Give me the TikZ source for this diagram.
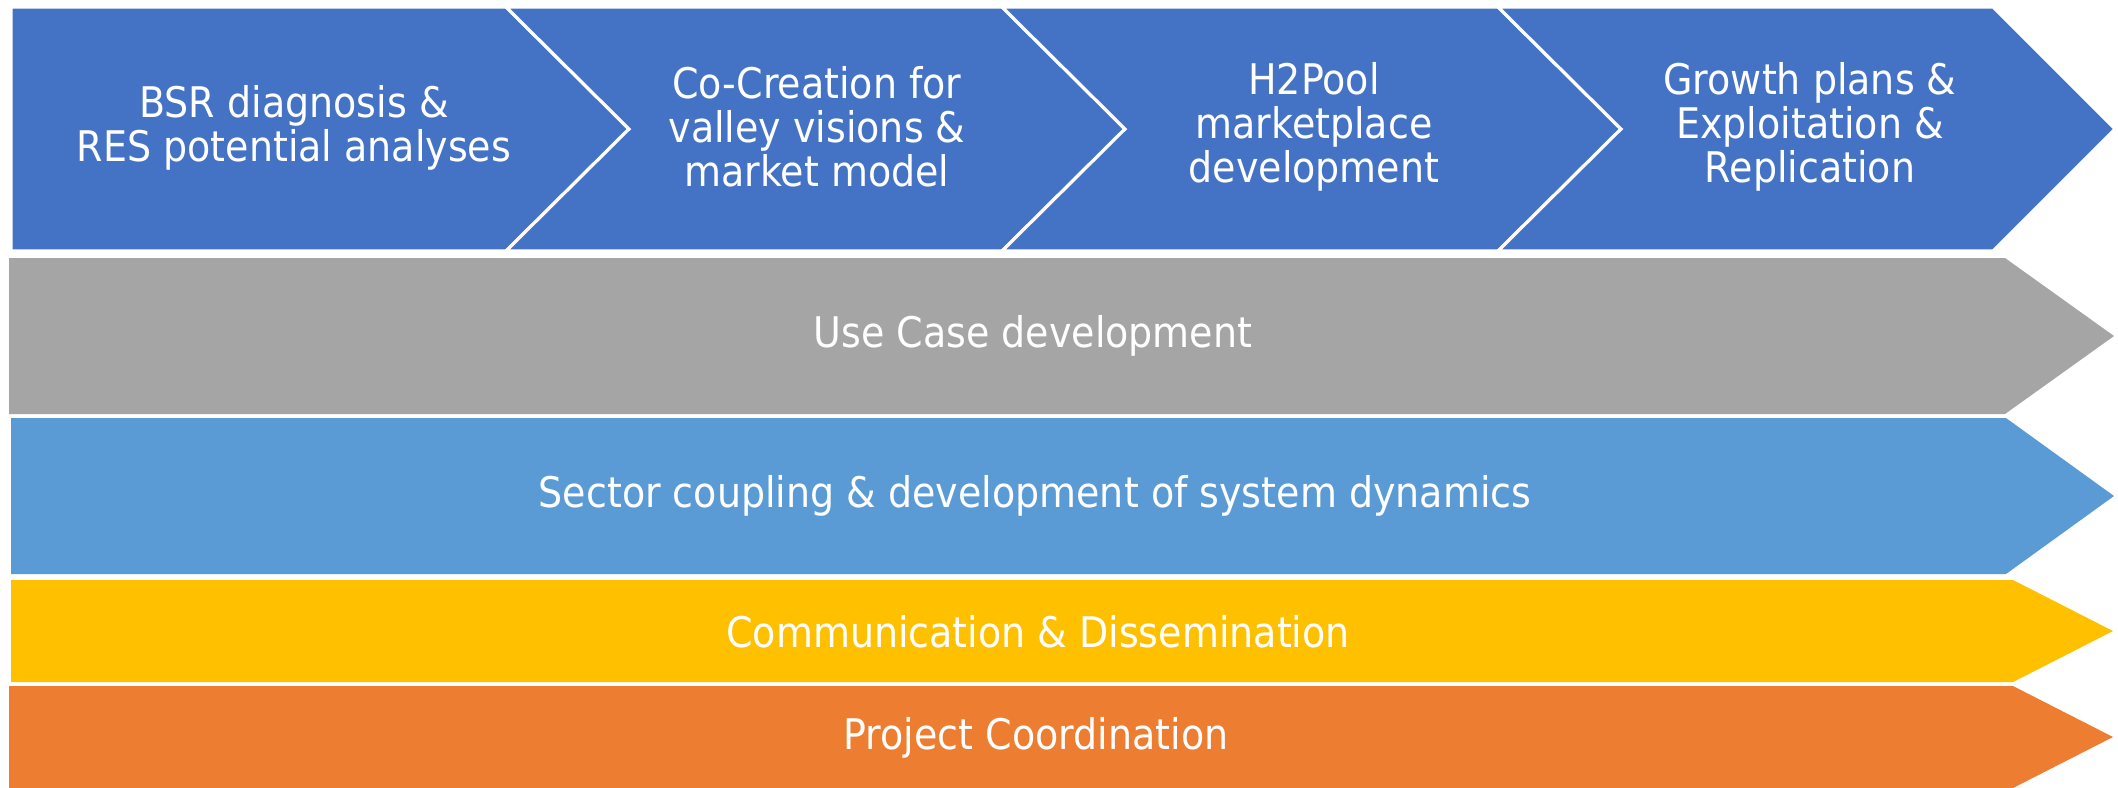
\documentclass[tikz,border=0pt]{standalone}
\usepackage{fontspec}
\setmainfont{DejaVu Sans}[FakeStretch=0.9]
\definecolor{phaseblue}{HTML}{4472C4}
\definecolor{casegray}{HTML}{A5A5A5}
\definecolor{sectorblue}{HTML}{5B9BD5}
\definecolor{commyellow}{HTML}{FFC000}
\definecolor{coordorange}{HTML}{ED7D31}
\tikzset{
  phase/.style={fill=phaseblue, draw=white, line width=0.9pt, line join=miter},
  wptext/.style={text=white, align=center, font=\fontsize{12}{12.5}\selectfont},
}
\begin{document}
\begin{tikzpicture}[x=0.01cm, y=-0.01cm]
	\useasboundingbox (0,0) rectangle (2118,787);

	% phases
	\filldraw[phase] (11,7) -- (506,7) -- (629,129) -- (506,251) -- (11,251) -- cycle;
	\filldraw[phase] (506,7) -- (1002,7) -- (1125,129) -- (1002,251) -- (506,251) -- (629,129) -- cycle;
	\filldraw[phase] (1002,7) -- (1498,7) -- (1621,129) -- (1498,251) -- (1002,251) -- (1125,129) -- cycle;
	\filldraw[phase] (1498,7) -- (1993,7) -- (2115,129) -- (1993,251) -- (1498,251) -- (1621,129) -- cycle;
	\node[wptext] (bsr) at (294,128) {BSR diagnosis \&\\RES potential analyses};
	\node[wptext] (cocreation) at (817,127) {Co-Creation for\\valley visions \&\\market model};
	\node[wptext] (h2pool) at (1314,127) {H2Pool\\marketplace\\development};
	\node[wptext] (growth) at (1810,127) {Growth plans \&\\Exploitation \&\\Replication};

	% work packages
	\fill[casegray] (9,258) -- (2005,258) -- (2114,336) -- (2005,414) -- (9,414) -- cycle;
	\node[wptext] (usecase) at (1033,336) {Use Case development};

	\fill[sectorblue] (11,418) -- (2006,418) -- (2114,496) -- (2006,574) -- (11,574) -- cycle;
	\node[wptext] (sector) at (1035,496) {Sector coupling \& development of system dynamics};

	\fill[commyellow] (11,580) -- (2013,580) -- (2113,631) -- (2013,682) -- (11,682) -- cycle;
	\node[wptext] (comm) at (1038,632) {Communication \& Dissemination};

	\fill[coordorange] (9,686) -- (2013,686) -- (2113,737) -- (2013,788) -- (9,788) -- cycle;
	\node[wptext] (coord) at (1036,738) {Project Coordination};

\end{tikzpicture}
\end{document}
